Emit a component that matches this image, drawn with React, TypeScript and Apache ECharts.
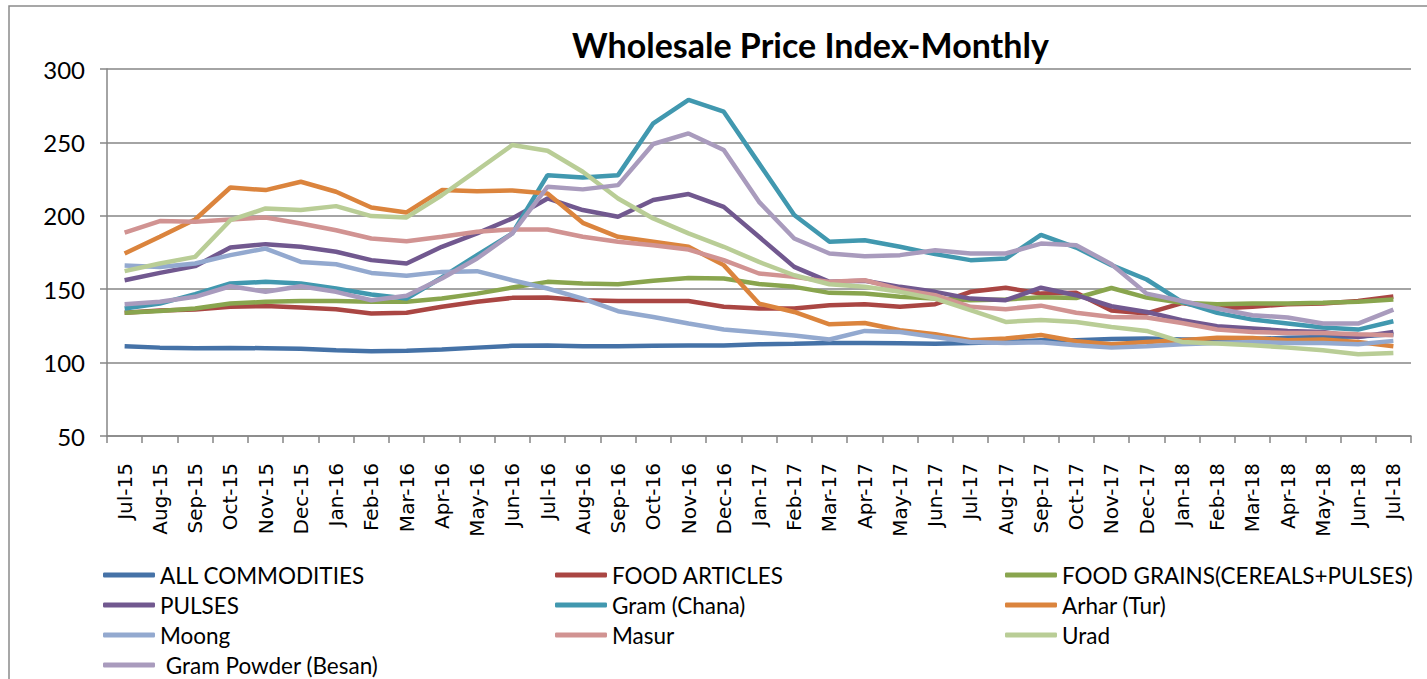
import React, { useEffect, useRef } from "react";
import * as echarts from "echarts";

const months = [
  "Jul-15","Aug-15","Sep-15","Oct-15","Nov-15","Dec-15","Jan-16","Feb-16","Mar-16","Apr-16","May-16","Jun-16",
  "Jul-16","Aug-16","Sep-16","Oct-16","Nov-16","Dec-16","Jan-17","Feb-17","Mar-17","Apr-17","May-17","Jun-17",
  "Jul-17","Aug-17","Sep-17","Oct-17","Nov-17","Dec-17","Jan-18","Feb-18","Mar-18","Apr-18","May-18","Jun-18","Jul-18",
];

const allCommodities = [111.1,110.2,109.8,110.0,109.8,109.5,108.4,107.7,108.0,108.9,110.2,111.4,111.6,111.1,111.1,111.4,111.6,111.6,112.5,112.8,113.4,113.4,113.2,112.9,113.4,114.1,115.2,115.2,116.0,116.4,115.7,115.7,116.0,117.0,117.5,117.8,119.3];
const foodArticles = [133.9,135.5,136.1,138.0,138.6,137.5,136.4,133.4,133.9,138.0,141.4,144.1,144.3,142.5,142.0,142.0,142.0,138.0,136.8,136.8,139.1,139.8,138.0,139.8,148.2,151.0,147.0,147.5,135.5,133.5,140.5,136.8,138.0,139.8,140.2,142.0,145.0];
const foodGrains = [133.9,135.2,136.8,140.2,141.4,142.0,142.0,141.4,141.4,143.6,147.0,151.1,155.0,153.9,153.4,155.7,157.7,157.3,153.5,151.6,147.5,147.0,144.8,143.6,142.5,143.0,144.5,144.0,150.8,144.3,140.8,139.8,140.2,140.2,140.7,141.4,143.0];
const pulses = [156.1,161.1,165.7,178.4,180.7,178.9,175.5,169.8,167.5,178.9,188.0,198.2,211.8,203.9,199.3,210.7,214.8,206.1,185.7,165.2,155.0,155.7,151.6,148.2,143.6,142.5,151.0,145.9,138.4,134.5,128.9,124.8,123.2,121.6,120.9,117.5,120.9];
const gram = [136.8,140.2,146.6,153.9,155.0,153.9,150.5,146.4,143.6,158.0,173.2,188.0,227.7,226.1,227.7,263.0,278.9,270.9,235.7,200.5,182.3,183.4,178.9,173.9,169.8,170.9,187.0,178.4,166.4,156.6,141.4,133.9,129.3,126.6,123.9,122.5,128.2];
const arhar = [174.3,185.7,197.5,219.3,217.5,223.2,216.4,205.7,202.3,217.5,216.8,217.2,215.2,195.2,185.7,182.3,178.9,166.4,140.2,134.5,126.1,127.0,122.0,119.3,115.2,116.4,118.8,114.6,112.5,114.1,115.2,117.0,116.8,115.2,115.7,114.1,111.1];
const moong = [166.1,165.2,167.5,173.2,177.7,168.6,167.0,161.1,159.1,161.8,162.3,156.1,150.5,143.6,135.0,131.1,126.6,122.5,120.5,118.5,115.7,121.6,120.9,117.5,114.1,113.4,113.8,111.8,110.2,111.1,112.5,113.4,114.1,113.4,113.4,112.5,114.8];
const masur = [188.5,196.4,195.9,197.5,198.9,194.8,190.2,184.5,182.7,185.7,189.1,190.7,190.7,185.7,182.3,180.0,177.0,169.8,160.7,158.4,155.0,156.1,149.8,145.9,138.0,136.4,138.8,134.0,131.1,130.7,127.0,122.5,120.9,120.2,120.2,119.3,118.6];
const urad = [162.3,167.5,172.0,197.0,205.0,203.9,206.6,199.8,198.9,214.0,231.0,248.2,244.3,230.0,211.8,198.2,188.0,178.9,168.6,159.5,153.4,151.6,148.2,143.6,135.7,127.7,129.1,127.7,124.3,121.6,114.1,113.0,111.8,110.2,108.4,105.7,106.6];
const besan = [139.8,141.4,144.8,152.0,148.2,152.0,148.2,142.5,145.5,157.3,170.9,188.0,219.8,218.0,220.9,248.9,256.1,244.8,209.5,184.5,174.3,172.5,173.2,176.6,174.3,174.3,181.1,180.0,167.0,147.0,142.0,136.8,132.3,130.7,126.6,126.6,136.1];

const seriesNames = [
  "ALL COMMODITIES","FOOD ARTICLES","FOOD GRAINS(CEREALS+PULSES)","PULSES","Gram (Chana)",
  "Arhar (Tur)","Moong","Masur","Urad"," Gram Powder (Besan)",
];
const seriesData = [allCommodities, foodArticles, foodGrains, pulses, gram, arhar, moong, masur, urad, besan];
const colors = ["#4572A7","#AA4643","#89A54E","#71588F","#4198AF","#DB843D","#93A9CF","#D19392","#B9CD96","#A99BBD"];

const yTicks = { min: 50, max: 300, interval: 50 };

export default function App() {
  const ref = useRef<HTMLDivElement>(null);
  useEffect(() => {
    document.body.style.margin = "0";
    const chart = echarts.init(ref.current!, null, { renderer: "svg" });
    const legendText = { fontFamily: "Lato", fontSize: 22.5, color: "#000", lineHeight: 24 };
    const colLeft = [98, 550, 1000];
    const legends = seriesNames.map((name, i) => {
      const col = i % 3;
      const row = Math.floor(i / 3);
      return {
        orient: "horizontal",
        left: colLeft[col],
        top: 575 + row * 30 - 17,
        itemWidth: 52,
        itemHeight: 5,
        itemGap: 5,
        icon: "roundRect",
        data: [name],
        textStyle: legendText,
        selectedMode: false,
      };
    });
    chart.setOption({
      animation: false,
      backgroundColor: "#fff",
      color: colors,
      title: {
        text: "Wholesale Price Index-Monthly",
        left: 567,
        top: 22,
        textStyle: { fontFamily: "Lato", fontWeight: "bold", fontSize: 34, color: "#000" },
      },
      graphic: [
        {
          type: "rect",
          shape: { x: 9, y: 6, width: 1460, height: 720 },
          style: { fill: "none", stroke: "#8a8a8a", lineWidth: 1.5 },
          silent: true,
        },
      ],
      legend: legends,
      grid: { left: 107, right: 16, top: 69, bottom: 243, containLabel: false },
      xAxis: {
        type: "category",
        data: months,
        boundaryGap: true,
        axisLine: { lineStyle: { color: "#868686", width: 1.5 } },
        axisTick: { show: true, length: 7, lineStyle: { color: "#868686", width: 1.5 } },
        axisLabel: {
          rotate: 90,
          interval: 0,
          margin: 27,
          fontFamily: "DejaVu Sans",
          fontSize: 20,
          color: "#000",
        },
      },
      yAxis: {
        type: "value",
        min: yTicks.min,
        max: yTicks.max,
        interval: yTicks.interval,
        axisLine: { show: true, lineStyle: { color: "#868686", width: 1.5 } },
        axisTick: { show: true, length: 7, lineStyle: { color: "#868686", width: 1.5 } },
        axisLabel: { margin: 22, fontFamily: "Lato", fontSize: 24, color: "#000" },
        splitLine: { lineStyle: { color: "#868686", width: 1.5 } },
      },
      series: seriesNames.map((name, i) => ({
        name,
        type: "line",
        data: seriesData[i],
        symbol: "none",
        lineStyle: { width: 4.5, color: colors[i] },
        itemStyle: { color: colors[i] },
      })),
    });
    return () => chart.dispose();
  }, []);
  return <div ref={ref} style={{ width: 1427, height: 679 }} />;
}
